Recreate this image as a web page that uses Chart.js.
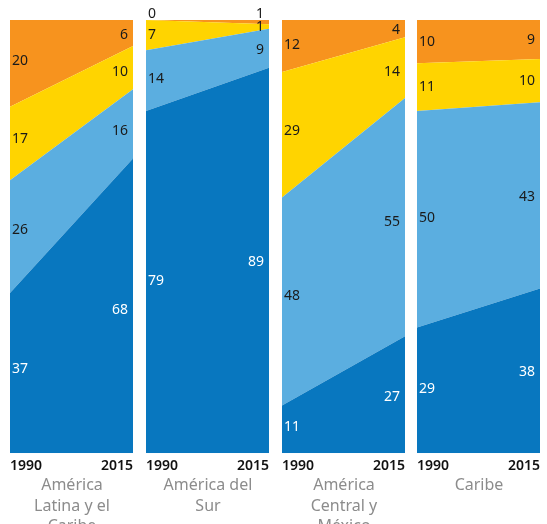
<!DOCTYPE html>
<html>
<head>
<meta charset="utf-8">
<script src="https://cdn.jsdelivr.net/npm/chart.js@4"></script>
<style>
  html, body { margin: 0; padding: 0; background: #fff; overflow: hidden; }
  #wrap { position: relative; width: 547px; height: 524px; }
  .panel { position: absolute; top: 0; width: 131px; height: 478px; }
  .name {
    position: absolute; top: 474px; width: 150px; text-align: center;
    font-family: "Noto Sans", sans-serif; font-size: 16px; line-height: 20.5px; color: #8c8c8c;
  }
</style>
</head>
<body>
<div id="wrap"></div>
<script>
"use strict";

// 1: data (percent shares, 1990 and 2015)
let years = ['1990', '2015'];
let regions = [
  ['América', 'Latina y el', 'Caribe'],
  ['América del', 'Sur'],
  ['América', 'Central y', 'México'],
  ['Caribe']
];
// one pair [1990, 2015] per region, bottom layer first
let azulOscuro = [[37, 68], [79, 89], [11, 27], [29, 38]];
let azulClaro  = [[26, 16], [14, 9],  [48, 55], [50, 43]];
let amarillo   = [[17, 10], [7, 1],   [29, 14], [11, 10]];
let naranja    = [[20, 6],  [0, 1],   [12, 4],  [10, 9]];

let layers = [azulOscuro, azulClaro, amarillo, naranja];
let colors = ['#0877bf', '#5baee0', '#ffd400', '#f7931e'];
let panelLeft = [10, 146, 282, 417];

// 2: value labels at both ends of each band
const bandLabels = {
  id: 'bandLabels',
  afterDatasetsDraw(chart) {
    let ctx = chart.ctx;
    let area = chart.chartArea;
    let y = chart.scales.y;
    let sets = chart.data.datasets;
    ctx.save();
    ctx.font = '14px "Noto Sans", sans-serif';
    ctx.textBaseline = 'middle';
    [0, 1].forEach(function (j) {
      let t = j === 0 ? 0.06 : 0.94; // where along the band the label sits
      sets.forEach(function (ds, i) {
        let v0 = ds.data[0], v1 = ds.data[1];
        let b0 = 0, b1 = 0;
        for (let k = 0; k < i; k++) { b0 += sets[k].data[0]; b1 += sets[k].data[1]; }
        let v = ds.data[j];
        let mid = (b0 + v0 / 2) * (1 - t) + (b1 + v1 / 2) * t;
        let py = y.getPixelForValue(mid);
        if (i === sets.length - 1 && v <= 1) py = area.top - 6;
        ctx.fillStyle = i === 0 ? '#ffffff' : '#1a1a1a';
        if (j === 0) {
          ctx.textAlign = 'left';
          ctx.fillText(String(v), area.left + 2, py);
        } else {
          ctx.textAlign = 'right';
          ctx.fillText(String(v), area.right - 5, py);
        }
      });
    });
    ctx.restore();
  }
};

// 3: create and append the charts
function appendChart(r) {
  let wrap = document.getElementById('wrap');
  let box = document.createElement('div');
  box.className = 'panel';
  box.style.left = (panelLeft[r] - 4) + 'px';
  let canvas = document.createElement('canvas');
  box.appendChild(canvas);
  wrap.appendChild(box);

  let name = document.createElement('div');
  name.className = 'name';
  name.style.left = (panelLeft[r] + 62 - 75) + 'px';
  name.innerHTML = regions[r].join('<br>');
  wrap.appendChild(name);

  new Chart(canvas, {
    type: 'line',
    data: {
      labels: years,
      datasets: layers.map(function (layer, i) {
        return {
          data: layer[r],
          backgroundColor: colors[i],
          borderWidth: 0,
          pointRadius: 0,
          tension: 0,
          fill: i === 0 ? 'origin' : '-1'
        };
      })
    },
    options: {
      responsive: true,
      maintainAspectRatio: false,
      animation: false,
      layout: { padding: { top: 20, left: 0, right: 0, bottom: 0 } },
      plugins: { legend: { display: false }, tooltip: { enabled: false } },
      scales: {
        x: {
          offset: false,
          grid: { display: false, drawTicks: false },
          border: { display: false },
          ticks: {
            align: 'inner',
            padding: 4,
            maxRotation: 0,
            color: '#111111',
            font: { family: '"Noto Sans", sans-serif', size: 14, weight: '600' }
          }
        },
        y: {
          display: false,
          stacked: true,
          min: 0,
          max: 100
        }
      }
    },
    plugins: [bandLabels]
  });
}

for (let r = 0; r < regions.length; r++) appendChart(r);
</script>
</body>
</html>
